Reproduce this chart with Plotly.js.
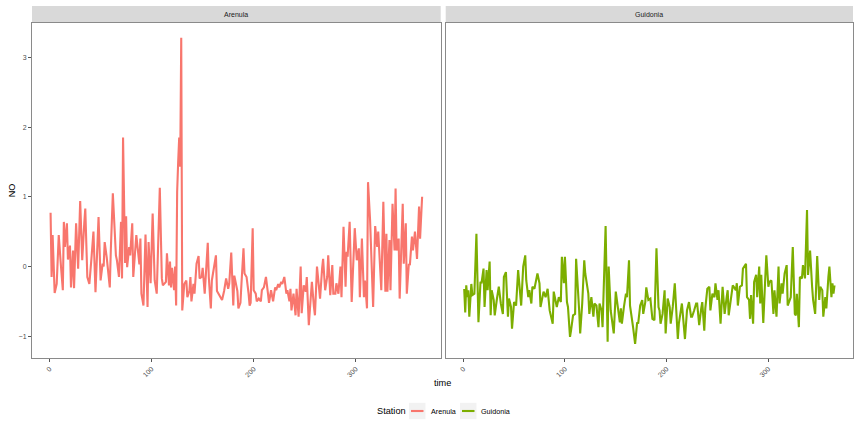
<!DOCTYPE html>
<html>
<head>
<meta charset="utf-8">
<script src="https://cdn.plot.ly/plotly-3.0.1.min.js"></script>
<style>html,body{margin:0;padding:0;background:#fff;}#chart{width:854px;height:424px;}</style>
</head>
<body>
<div id="chart"></div>
<script>
// ---- data (time in days, NO values) ----
const stations = ["Arenula", "Guidonia"];
const stationColors = ["#F8766D", "#7CAE00"];
const xTicks = [0, 100, 200, 300];
const yTicks = [-1, 0, 1, 2, 3];

const arenulaTime = [1,2,3,5,7,9,11,13,14,15,17,18,20,21,23,24,26,28,30,32,34,35,37,39,41,43,45,48,50,52,53,54,56,58,59,60,62,65,66,68,70,71,72,74,75,76,78,79,81,82,84,85,88,89,90,92,94,96,97,99,101,103,105,108,110,111,114,115,117,118,119,120,122,123,124,125,126,127,128,129,130,132,134,135,137,138,139,141,142,144,146,147,149,150,152,153,155,156,158,159,161,163,164,167,169,171,173,175,176,178,180,181,184,185,187,188,190,191,193,195,196,197,199,200,202,203,205,207,208,210,212,214,215,217,219,221,222,224,225,227,228,230,232,233,235,236,237,239,241,242,244,246,247,249,251,252,254,255,257,259,260,262,265,267,268,270,272,273,275,277,278,280,281,283,285,286,288,290,291,292,294,296,298,299,301,303,304,306,308,309,311,312,314,316,317,319,321,322,324,325,327,329,330,331,333,334,336,338,339,340,342,343,346,347,349,350,352,353,355,356,358,360,362,363,365];
const arenulaNO = [0.77,-0.15,0.45,-0.38,-0.25,0.45,0.04,-0.34,0.64,0.28,0.62,0.10,0.30,-0.30,0.23,-0.31,0.62,-0.03,0.94,0.09,0.62,0.83,-0.15,-0.25,0.11,0.50,-0.37,0.71,-0.20,0.04,0.00,0.35,0.13,-0.11,-0.30,0.23,1.05,0.16,0.09,-0.15,0.64,-0.17,1.85,0.05,0.72,-0.01,0.28,0.16,0.62,-0.15,0.28,0.45,0.03,0.40,-0.39,-0.56,0.46,-0.58,0.35,-0.24,0.76,-0.20,-0.39,1.13,-0.17,-0.27,-0.22,0.19,-0.27,0.07,-0.30,-0.02,-0.34,0.00,-0.56,1.07,1.50,1.85,1.43,3.28,-0.63,-0.25,-0.20,-0.44,-0.35,-0.15,-0.50,-0.25,-0.39,0.04,0.15,-0.17,-0.15,-0.02,-0.39,-0.10,0.34,-0.15,-0.60,-0.20,0.02,0.16,-0.35,-0.44,-0.48,-0.35,-0.17,-0.32,-0.25,0.20,-0.56,-0.13,-0.35,-0.60,-0.52,-0.25,0.26,-0.10,-0.15,-0.39,-0.56,-0.52,0.55,-0.34,-0.39,-0.50,-0.46,-0.50,-0.34,-0.30,-0.15,-0.39,-0.52,-0.34,-0.50,-0.30,-0.34,-0.25,-0.30,-0.22,-0.25,-0.15,-0.39,-0.34,-0.50,-0.32,-0.63,-0.39,-0.70,-0.32,-0.72,0.00,-0.67,-0.27,-0.36,-0.15,-0.84,-0.63,-0.22,-0.58,-0.70,0.00,-0.46,-0.03,0.11,-0.34,-0.15,0.16,-0.41,0.02,-0.39,-0.39,-0.24,-0.39,0.00,-0.44,0.57,-0.29,0.21,0.14,0.64,-0.51,0.09,0.55,0.09,0.26,-0.44,0.40,-0.44,-0.20,-0.60,1.21,0.67,-0.20,-0.58,0.58,0.28,0.50,-0.20,-0.34,0.93,-0.36,0.47,-0.36,0.38,-0.34,0.90,0.23,1.12,0.23,0.40,-0.46,0.90,0.04,0.62,-0.39,0.04,0.02,0.43,0.23,0.50,0.11,0.86,0.40,1.00];

const guidoniaTime = [1,2,3,4,5,6,8,9,11,13,15,17,18,20,21,23,24,26,27,28,30,31,33,35,37,39,40,42,44,45,47,48,50,52,54,56,57,59,61,62,64,65,67,68,70,73,75,76,78,79,81,83,85,88,89,91,92,94,96,97,99,100,102,103,105,106,108,110,111,114,115,117,119,120,123,124,126,128,129,131,133,134,136,137,140,142,143,145,146,148,150,152,154,155,156,158,160,161,163,164,166,167,169,171,172,174,176,177,179,180,182,184,186,188,190,192,193,194,196,198,199,200,201,203,204,206,208,211,212,215,217,218,220,222,224,225,227,229,230,232,234,235,237,238,240,242,243,245,247,248,250,251,253,255,256,257,259,260,261,263,265,266,268,269,270,272,274,275,278,279,281,282,283,285,286,288,289,291,292,293,295,297,298,300,301,303,305,306,308,310,311,313,314,316,318,319,321,322,324,326,327,328,330,331,333,334,336,338,339,341,343,344,346,348,350,351,353,354,356,357,359,360,362,363,364,365];
const guidoniaNO = [-0.32,-0.66,-0.27,-0.44,-0.34,-0.72,-0.25,-0.41,-0.39,0.47,-0.80,-0.22,-0.24,-0.03,-0.58,-0.05,-0.34,0.07,-0.70,-0.34,-0.48,-0.70,-0.48,-0.29,-0.53,-0.68,-0.15,-0.08,-0.72,-0.46,-0.58,-0.89,-0.51,-0.56,-0.05,-0.34,-0.56,0.00,0.16,-0.20,-0.44,-0.34,-0.53,-0.29,-0.32,-0.10,-0.24,-0.58,-0.39,-0.36,-0.44,-0.32,-0.63,-0.82,-0.36,-0.48,-0.58,-0.44,-0.51,0.14,-0.24,0.14,-0.51,-0.58,-1.01,-0.92,-0.70,-0.68,0.11,-0.63,-0.96,-0.53,0.09,-0.10,-0.39,-0.68,-0.44,-0.72,-0.53,-0.56,-0.87,-0.53,-0.63,-0.87,0.58,-1.08,0.00,-0.63,-0.77,-0.96,-0.36,-0.58,-0.80,-0.60,-0.82,-0.58,-0.39,-0.44,0.09,-0.56,-0.82,-0.87,-1.11,-0.80,-0.82,-0.56,-0.48,-0.68,-0.51,-0.30,-0.48,-0.46,-0.75,-0.77,0.26,-0.58,-0.63,-0.82,-0.68,-0.34,-0.96,-0.68,-0.46,-0.58,-0.82,-0.58,-0.24,-1.04,-0.82,-0.53,-0.82,-1.04,-0.63,-0.51,-0.72,-0.72,-0.63,-0.53,-0.53,-0.84,-0.60,-0.51,-0.92,-0.60,-0.32,-0.29,-0.63,-0.39,-0.44,-0.24,-0.48,-0.34,-0.82,-0.29,-0.48,-0.68,-0.44,-0.34,-0.70,-0.44,-0.27,-0.29,-0.34,-0.24,-0.56,-0.29,-0.27,-0.03,0.04,-0.44,-0.48,-0.75,-0.41,-0.82,-0.22,-0.12,-0.44,0.00,-0.53,-0.12,-0.81,-0.15,0.16,-0.29,-0.22,-0.20,-0.68,-0.34,-0.72,0.00,-0.53,-0.24,-0.39,-0.10,0.02,-0.56,-0.48,-0.44,0.28,-0.68,-0.70,-0.39,-0.87,-0.15,-0.17,0.02,-0.17,0.81,-0.12,0.23,-0.29,-0.48,-0.68,0.15,-0.48,-0.29,-0.34,-0.72,-0.44,-0.60,-0.15,0.00,-0.44,-0.24,-0.39,-0.27];

// ---- styling / layout ----
const FONT = "Liberation Sans, Arial, Helvetica, sans-serif";
const W = 854, H = 424;
const M = {l: 32, r: 1, t: 6, b: 66};
const plotW = W - M.l - M.r, plotH = H - M.t - M.b;
const px2x = p => (p - M.l) / plotW;
const py2y = p => (H - M.b - p) / plotH;
const stripTop = 1, stripBottom = py2y(22.7);
const panelDomains = [[0, px2x(440.7)], [px2x(445.7), 1]];

const traces = [
  {x: arenulaTime, y: arenulaNO, xaxis: 'x', yaxis: 'y', name: stations[0]},
  {x: guidoniaTime, y: guidoniaNO, xaxis: 'x2', yaxis: 'y2', name: stations[1]}
].map((t, i) => Object.assign(t, {
  type: 'scatter', mode: 'lines', showlegend: false,
  line: {color: stationColors[i], width: 2.1}, hoverinfo: 'x+y'
}));

const axisCommon = {
  showgrid: false, zeroline: false, showline: true, mirror: true,
  linecolor: '#8a8a8a', linewidth: 1,
  ticks: 'outside', ticklen: 3, tickwidth: 1, tickcolor: '#555',
  tickfont: {family: FONT, size: 7, color: '#4d4d4d'}
};
const xCommon = Object.assign({}, axisCommon, {
  range: [-17.2, 383.2], tickvals: xTicks, ticktext: xTicks.map(String), tickangle: -45
});
const yCommon = Object.assign({}, axisCommon, {
  range: [-1.312, 3.497], tickvals: yTicks, ticktext: yTicks.map(v => v < 0 ? '\u2212' + Math.abs(v) : String(v)),
  domain: [0, stripBottom]
});

const shapes = [];
const annotations = [];
['x', 'x2'].forEach((ax, i) => {
  shapes.push({type: 'rect', xref: ax + ' domain', yref: 'paper', x0: 0, x1: 1,
    y0: stripBottom, y1: stripTop, fillcolor: '#d9d9d9', line: {width: 0}, layer: 'below'});
  annotations.push({xref: ax + ' domain', yref: 'paper', x: 0.5, y: (stripBottom + stripTop) / 2,
    text: stations[i], showarrow: false, xanchor: 'center', yanchor: 'middle',
    font: {family: FONT, size: 7, color: '#1a1a1a'}});
});

// x-axis title centred under both panels
annotations.push({xref: 'paper', yref: 'paper', x: 0.5, y: py2y(383.3), text: 'time',
  showarrow: false, xanchor: 'center', yanchor: 'middle', font: {family: FONT, size: 9.2, color: '#000'}});

// y-axis title
annotations.push({xref: 'paper', yref: 'paper', x: px2x(11.8), y: py2y(190.5), text: 'NO', textangle: -90,
  showarrow: false, xanchor: 'center', yanchor: 'middle', font: {family: FONT, size: 9.2, color: '#000'}});

// legend (ggplot style, bottom centre)
const legY = py2y(411);
annotations.push({xref: 'paper', yref: 'paper', x: px2x(376), y: legY, text: 'Station', showarrow: false,
  xanchor: 'left', yanchor: 'middle', borderpad: 0, font: {family: FONT, size: 9.2, color: '#000'}});
const keyX = [409, 460], labX = [429.5, 480];
stations.forEach((s, i) => {
  shapes.push({type: 'rect', xref: 'paper', yref: 'paper', x0: px2x(keyX[i]), x1: px2x(keyX[i] + 16.5),
    y0: py2y(402.8), y1: py2y(419.2), fillcolor: '#f2f2f2', line: {width: 0}});
  shapes.push({type: 'line', xref: 'paper', yref: 'paper', x0: px2x(keyX[i] + 2), x1: px2x(keyX[i] + 14.5),
    y0: legY, y1: legY, line: {color: stationColors[i], width: 2.1}});
  annotations.push({xref: 'paper', yref: 'paper', x: px2x(labX[i]), y: legY, text: s, showarrow: false,
    xanchor: 'left', yanchor: 'middle', borderpad: 0, font: {family: FONT, size: 7.2, color: '#000'}});
});

const layout = {
  width: W, height: H, margin: Object.assign({pad: 0}, M),
  paper_bgcolor: '#ffffff', plot_bgcolor: '#ffffff',
  font: {family: FONT},
  showlegend: false,
  xaxis: Object.assign({}, xCommon, {domain: panelDomains[0], anchor: 'y'}),
  xaxis2: Object.assign({}, xCommon, {domain: panelDomains[1], anchor: 'y2'}),
  yaxis: Object.assign({}, yCommon, {anchor: 'x'}),
  yaxis2: Object.assign({}, yCommon, {anchor: 'x2', matches: 'y', showticklabels: false, ticks: ''}),
  shapes: shapes,
  annotations: annotations
};

Plotly.newPlot('chart', traces, layout, {displayModeBar: false, staticPlot: true});
</script>
</body>
</html>
